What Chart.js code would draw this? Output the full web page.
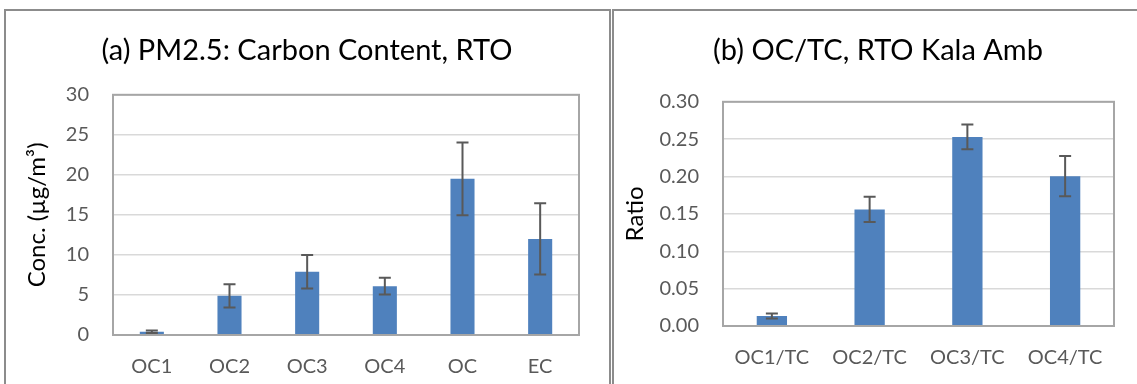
<!DOCTYPE html>
<html>
<head>
<meta charset="utf-8">
<script src="https://cdn.jsdelivr.net/npm/chart.js@4/dist/chart.umd.min.js"></script>
<style>
    body {
        margin: 0;
        width: 1137px;
        height: 384px;
        overflow: hidden;
        background: #ffffff;
        position: relative;
    }
    .panel {
        position: absolute;
        top: 9px;
        height: 400px;
        border: 2px solid #8c8c8c;
        background: #ffffff;
        overflow: hidden;
    }
    #panel_a { left: 4px; width: 603px; }
    #panel_b { left: 612px; width: 540px; border-right: none; }
    .panel canvas { position: absolute; left: 0; top: 0; }
</style>
</head>
<body>
<div class="panel" id="panel_a"><canvas id="chart_a" width="603" height="373"></canvas></div>
<div class="panel" id="panel_b"><canvas id="chart_b" width="529" height="373"></canvas></div>
<script>
// (a) carbon fractions, ug/m3
const carbon_labels = ["OC1", "OC2", "OC3", "OC4", "OC", "EC"];
const carbon_values = [0.4, 4.9, 7.9, 6.1, 19.5, 12.0];
const carbon_errors = [0.15, 1.45, 2.1, 1.05, 4.55, 4.45];
const carbon_ticks = [0, 5, 10, 15, 20, 25, 30];

// (b) OC fraction / TC ratios
const ratio_labels = ["OC1/TC", "OC2/TC", "OC3/TC", "OC4/TC"];
const ratio_values = [0.0134, 0.156, 0.253, 0.2005];
const ratio_errors = [0.0033, 0.017, 0.0165, 0.027];
const ratio_ticks = [0, 0.05, 0.10, 0.15, 0.20, 0.25, 0.30];

const font_name = "Lato, 'Open Sans', sans-serif";
const bar_color = "#4f81bd";
const tick_color = "#595959";

// frame round the plot area
const plotFrame = {
    id: "plotFrame",
    afterDatasetsDraw(chart) {
        let ctx = chart.ctx;
        let a = chart.chartArea;
        ctx.save();
        ctx.strokeStyle = "#a6a6a6";
        ctx.lineWidth = 2;
        ctx.strokeRect(a.left, a.top, a.right - a.left, a.bottom - a.top);
        ctx.restore();
    }
};

// +/- error whiskers, taken from plugin options
const errorBars = {
    id: "errorBars",
    afterDatasetsDraw(chart, args, opts) {
        let ctx = chart.ctx;
        let meta = chart.getDatasetMeta(0);
        let y = chart.scales.y;
        let vals = chart.data.datasets[0].data;
        ctx.save();
        ctx.strokeStyle = "#595959";
        ctx.lineWidth = 2;
        meta.data.forEach(function(bar, i) {
            let hi = y.getPixelForValue(vals[i] + opts.err[i]);
            let lo = y.getPixelForValue(vals[i] - opts.err[i]);
            ctx.beginPath();
            ctx.moveTo(bar.x, hi);
            ctx.lineTo(bar.x, lo);
            ctx.moveTo(bar.x - 6, hi);
            ctx.lineTo(bar.x + 6, hi);
            ctx.moveTo(bar.x - 6, lo);
            ctx.lineTo(bar.x + 6, lo);
            ctx.stroke();
        });
        ctx.restore();
    }
};

function makeChart(canvas_id, cfg) {
    let ctx = document.getElementById(canvas_id).getContext("2d");
    return new Chart(ctx, {
        type: "bar",
        data: {
            labels: cfg.labels,
            datasets: [{
                data: cfg.values,
                backgroundColor: bar_color,
                borderWidth: 0,
                barPercentage: cfg.bar_pct,
                categoryPercentage: 1.0
            }]
        },
        options: {
            responsive: false,
            animation: false,
            devicePixelRatio: 1,
            layout: {
                // left pad moves the centred title over the panel middle
                padding: {left: cfg.pad_left, right: cfg.pad_right, top: 0, bottom: 0}
            },
            plugins: {
                legend: {display: false},
                tooltip: {enabled: false},
                title: {
                    display: true,
                    text: cfg.title,
                    color: "#000000",
                    font: {family: font_name, size: 29, weight: "normal"},
                    padding: {top: 22, bottom: cfg.title_bottom}
                },
                errorBars: {err: cfg.errors}
            },
            scales: {
                x: {
                    grid: {display: false},
                    border: {display: false},
                    ticks: {
                        color: tick_color,
                        font: {family: font_name, size: 20},
                        padding: 12,
                        maxRotation: 0
                    },
                    afterFit: function(scale) {
                        scale.height = cfg.x_height;
                    }
                },
                y: {
                    min: 0,
                    max: cfg.ticks[cfg.ticks.length - 1],
                    afterBuildTicks: function(scale) {
                        scale.ticks = cfg.ticks.map(function(v) { return {value: v}; });
                    },
                    grid: {color: "#d9d9d9", lineWidth: 1.5, drawTicks: false},
                    border: {display: false},
                    ticks: {
                        color: tick_color,
                        font: {family: font_name, size: 20},
                        padding: 24,
                        callback: function(v) { return v.toFixed(cfg.decimals); }
                    },
                    title: {
                        display: true,
                        text: cfg.y_title,
                        color: "#000000",
                        font: {family: font_name, size: 24},
                        padding: {top: cfg.y_title_pad, bottom: 0}
                    },
                    afterFit: function(scale) {
                        scale.width = cfg.y_width;
                    }
                }
            }
        },
        plugins: [plotFrame, errorBars]
    });
}

makeChart("chart_a", {
    labels: carbon_labels,
    values: carbon_values,
    errors: carbon_errors,
    ticks: carbon_ticks,
    decimals: 0,
    title: "(a) PM2.5: Carbon Content, RTO",
    y_title: "Conc. (µg/m³)",
    y_title_pad: -12.4,
    bar_pct: 0.31,
    pad_left: 29,
    pad_right: 30,
    title_bottom: 27,
    x_height: 49,
    y_width: 78
});

makeChart("chart_b", {
    labels: ratio_labels,
    values: ratio_values,
    errors: ratio_errors,
    ticks: ratio_ticks,
    decimals: 2,
    title: "(b) OC/TC, RTO Kala Amb",
    y_title: "Ratio",
    y_title_pad: -21.4,
    bar_pct: 0.31,
    pad_left: 28,
    pad_right: 29,
    title_bottom: 34,
    x_height: 58,
    y_width: 81
});
</script>
</body>
</html>
